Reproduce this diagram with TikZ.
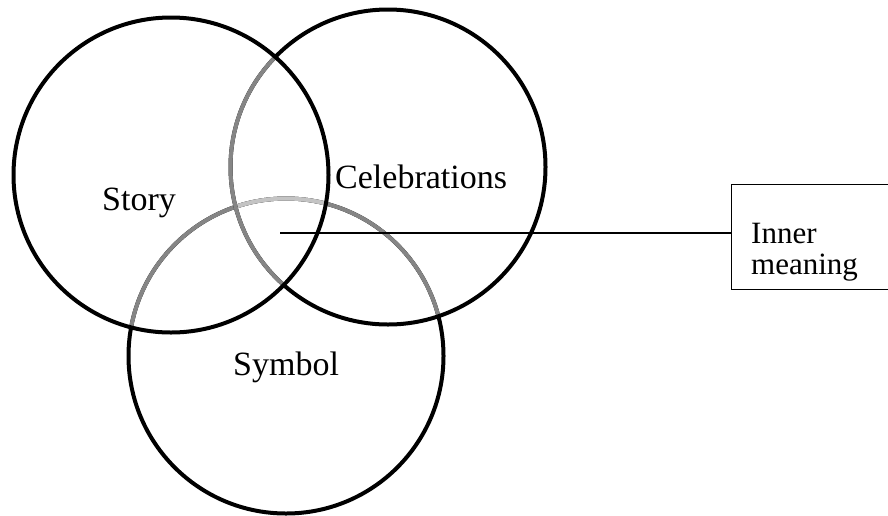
\documentclass[tikz,border=0pt]{standalone}
\usepackage{fontspec}
\setmainfont{Liberation Serif}
\definecolor{RingGray}{HTML}{858585}
\definecolor{RingLight}{HTML}{C4C4C4}
\usetikzlibrary{positioning}

\begin{document}
\begin{tikzpicture}[
  x=1pt, y=-1pt,
  ring/.style={line width=4pt},
  lbl/.style={font=\fontsize{34}{40}\selectfont, inner sep=0pt, anchor=base west},
  notebox/.style={draw, line width=1pt, minimum width=175pt, minimum height=105pt, inner sep=0pt},
  notelbl/.style={font=\fontsize{31}{31}\selectfont, inner sep=0pt, align=left},
  link/.style={draw, line width=1.3pt},
]
  \useasboundingbox (0,0) rectangle (888,515);
  % Circle centres
  \coordinate (story) at (171,175);
  \coordinate (cele) at (388,167);
  \coordinate (symb) at (286,356);
  \coordinate (hub) at (280,233);
  % Symbol ring, greyed inside the others
  \draw[ring] (symb) circle (157.5);
  \begin{scope}
    \clip (story) circle (157.5);
    \draw[ring, RingGray] (symb) circle (157.5);
  \end{scope}
  \begin{scope}
    \clip (cele) circle (157.5);
    \draw[ring, RingGray] (symb) circle (157.5);
    \clip (story) circle (157.5);
    \draw[ring, RingLight] (symb) circle (157.5);
  \end{scope}
  % Celebrations ring, greyed inside Story
  \draw[ring] (cele) circle (157.5);
  \begin{scope}
    \clip (story) circle (157.5);
    \draw[ring, RingGray] (cele) circle (157.5);
  \end{scope}
  % Story ring
  \draw[ring] (story) circle (157.5);
  % Ring labels
  \node[lbl] (storylbl) at (102,210) {Story};
  \node[lbl] (celelbl) at (335,188) {Celebrations};
  \node[lbl] (symblbl) at (233,375) {Symbol};
  % Note box
  \node[notebox, anchor=north west] (note) at (731,184) {};
  \node[notelbl, anchor=north west] (notetxt) at ([shift={(20,38.5)}]note.north west) {Inner\\meaning};
  \draw[link] (hub) -- (hub -| note.west);
\end{tikzpicture}
\end{document}
